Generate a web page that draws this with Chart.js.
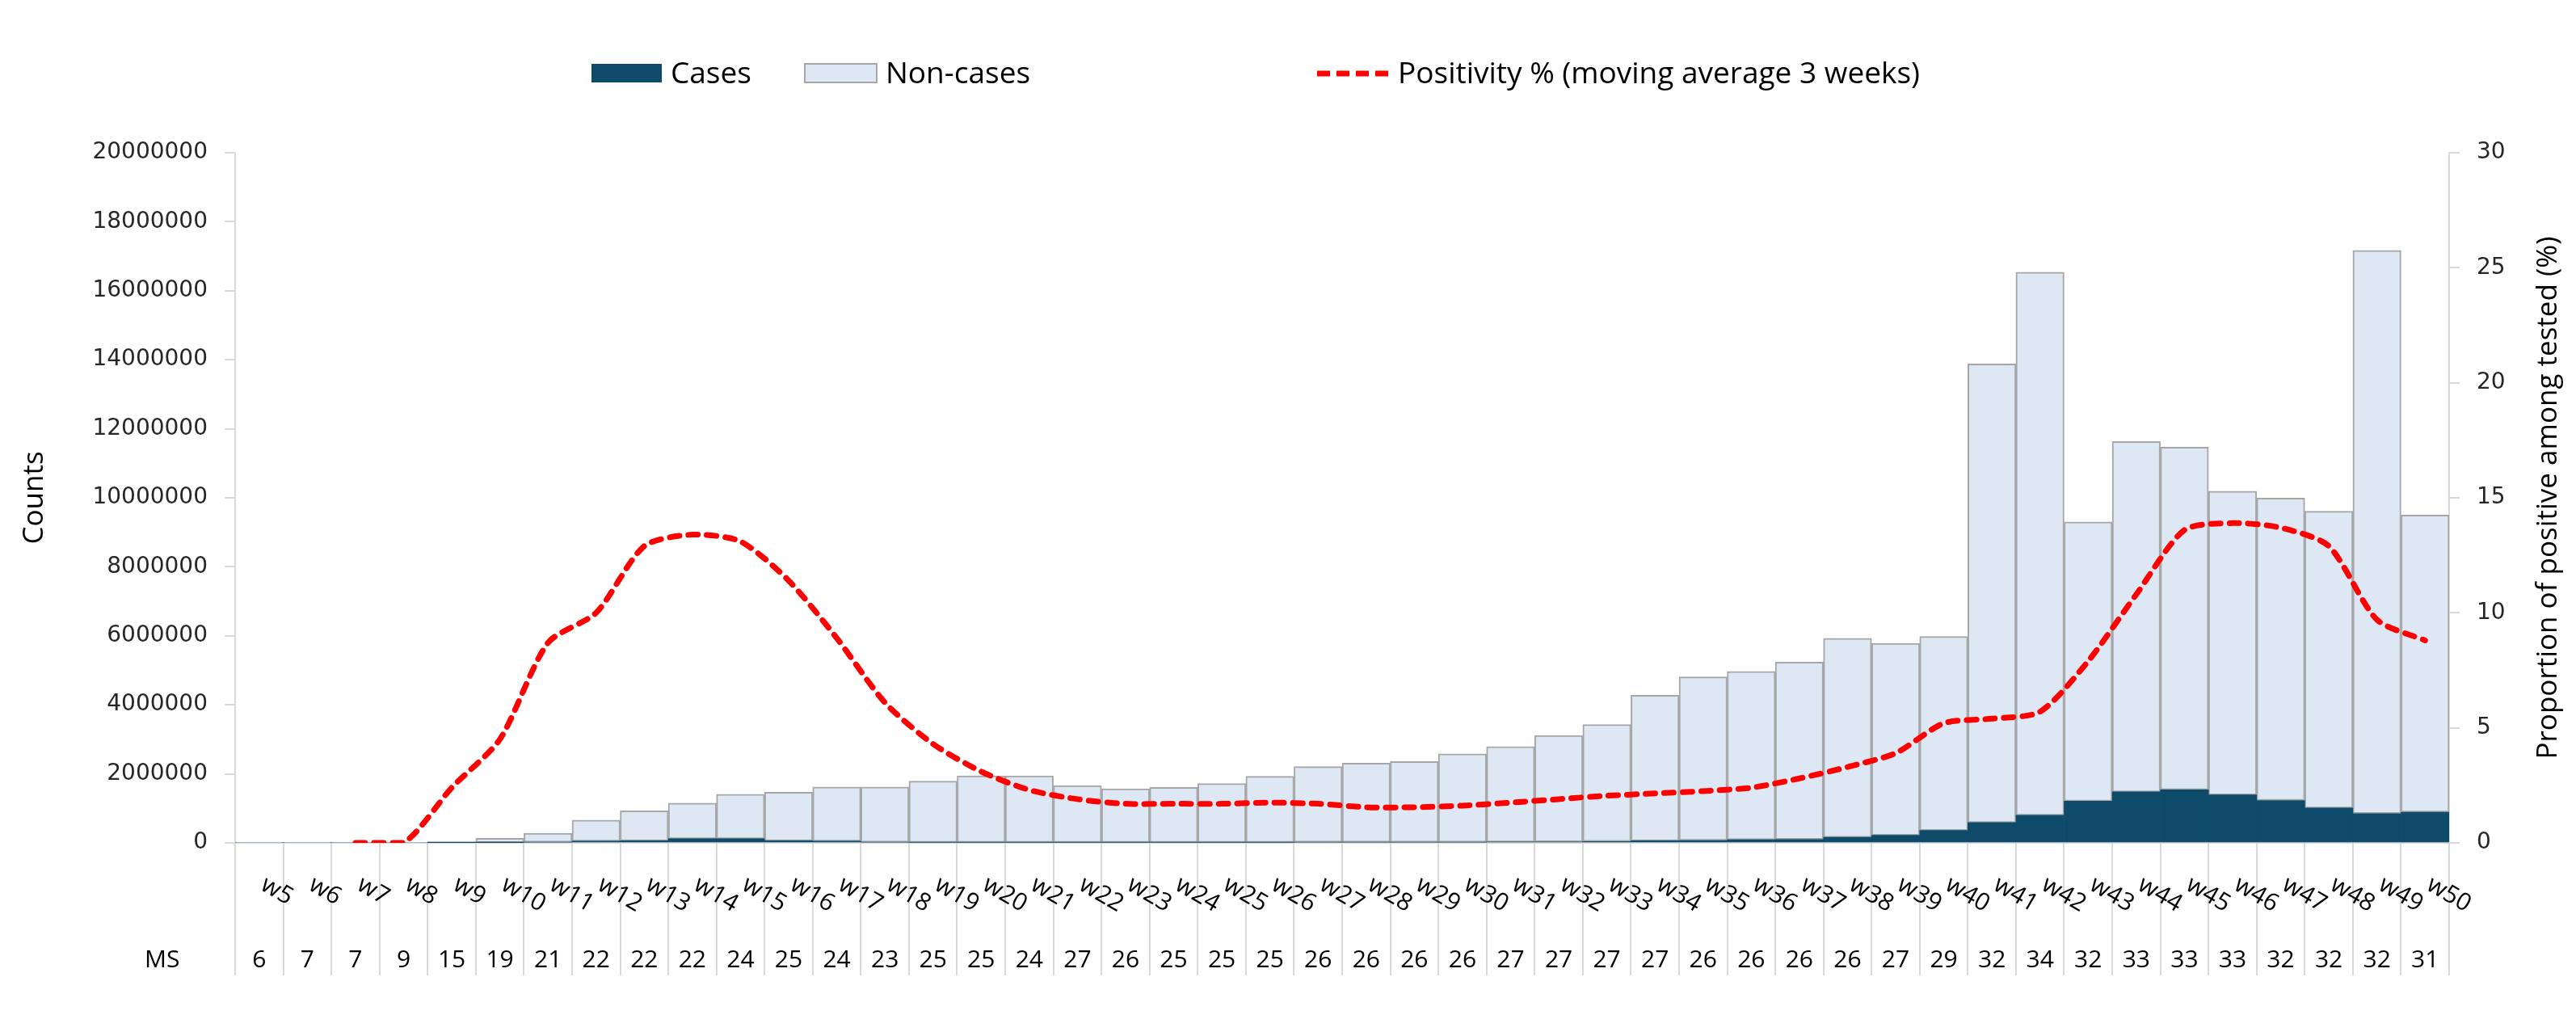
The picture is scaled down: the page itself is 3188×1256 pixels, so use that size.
<!DOCTYPE html>
<html>
<head>
<meta charset="utf-8">
<script src="https://cdn.jsdelivr.net/npm/chart.js@4.4.1/dist/chart.umd.min.js"></script>
<style>
  html, body { margin: 0; padding: 0; background: #fff; }
  #grafico { display: block; }
</style>
</head>
<body>
<canvas id="grafico" width="3188" height="1256"></canvas>
<script>
// ---- datos ----
const weeks = ['w5', 'w6', 'w7', 'w8', 'w9', 'w10', 'w11', 'w12', 'w13', 'w14', 'w15', 'w16',
    'w17', 'w18', 'w19', 'w20', 'w21', 'w22', 'w23', 'w24', 'w25', 'w26', 'w27', 'w28', 'w29',
    'w30', 'w31', 'w32', 'w33', 'w34', 'w35', 'w36', 'w37', 'w38', 'w39', 'w40', 'w41', 'w42',
    'w43', 'w44', 'w45', 'w46', 'w47', 'w48', 'w49', 'w50'];

const msValues = [6, 7, 7, 9, 15, 19, 21, 22, 22, 22, 24, 25, 24, 23, 25, 25, 24, 27, 26, 25, 25, 25,
    26, 26, 26, 26, 27, 27, 27, 27, 26, 26, 26, 26, 27, 29, 32, 34, 32, 33, 33, 33, 32, 32, 32, 31];

const cases = [0, 0, 0, 0, 1000, 5000, 20000, 50000, 60000, 120000, 120000, 60000,
    50000, 20000, 15000, 15000, 15000, 12000, 12000, 12000, 12000, 15000, 20000, 20000, 20000,
    22000, 25000, 30000, 40000, 60000, 70000, 90000, 100000, 160000, 220000, 360000, 590000, 800000,
    1210000, 1480000, 1540000, 1390000, 1230000, 1010000, 850000, 890000];

const nonCases = [5000, 8000, 10000, 15000, 29000, 125000, 260000, 610000, 870000, 1030000, 1290000, 1410000,
    1570000, 1600000, 1775000, 1925000, 1925000, 1648000, 1558000, 1598000, 1708000, 1915000, 2190000, 2290000, 2340000,
    2558000, 2765000, 3080000, 3390000, 4220000, 4740000, 4880000, 5140000, 5770000, 5560000, 5620000, 13290000, 15740000,
    8090000, 10150000, 9930000, 8800000, 8760000, 8600000, 16320000, 8610000];

const positivity = [null, null, 0, 0, 2.4, 4.5, 8.7, 10.0, 12.9, 13.4, 13.1, 11.4,
    8.9, 6.1, 4.3, 3.1, 2.3, 1.9, 1.7, 1.7, 1.7, 1.75, 1.7, 1.55, 1.55,
    1.62, 1.75, 1.9, 2.05, 2.15, 2.25, 2.4, 2.8, 3.3, 3.9, 5.2, 5.4, 5.7,
    7.9, 10.8, 13.6, 13.9, 13.7, 12.9, 9.7, 8.8];

const countsMax = 20000000;
const countsStep = 2000000;
const pctMax = 30;
const pctStep = 5;

// ---- estilos ----
const NAVY = '#0e4b6b';
const LIGHT = '#dde8f4';
const GREY = '#a6a6a6';
const AXIS = '#d9d9d9';
const RED = '#ff0000';
const FONT_TXT = '"Open Sans", "DejaVu Sans", sans-serif';
const FONT_NUM = '"DejaVu Sans", sans-serif';

// Etiquetas de semana giradas, fila MS y título del eje derecho
const etiquetasPlugin = {
    id: 'etiquetas',
    afterDraw(chart) {
        const { ctx, chartArea, scales: { x } } = chart;
        ctx.save();
        ctx.fillStyle = '#000';
        ctx.font = '30px ' + FONT_TXT;
        ctx.textAlign = 'left';
        ctx.textBaseline = 'alphabetic';
        weeks.forEach((w, i) => {
            const px = x.getPixelForValue(i);
            ctx.save();
            ctx.translate(px, chartArea.bottom + 57);
            ctx.rotate(30 * Math.PI / 180);
            ctx.fillText(w, 0, 0);
            ctx.restore();
        });
        ctx.font = '30px ' + FONT_TXT;
        ctx.textAlign = 'center';
        msValues.forEach((m, i) => {
            ctx.fillText(String(m), x.getPixelForValue(i), chartArea.bottom + 154);
        });
        ctx.textAlign = 'left';
        ctx.fillText('MS', 179, chartArea.bottom + 154);

        // título eje derecho (se lee de abajo hacia arriba)
        ctx.font = '35px ' + FONT_TXT;
        ctx.textAlign = 'center';
        ctx.textBaseline = 'middle';
        ctx.save();
        ctx.translate(3154, (chartArea.top + chartArea.bottom) / 2);
        ctx.rotate(-Math.PI / 2);
        ctx.fillText('Proportion of positive among tested (%)', 0, 0);
        ctx.restore();
        ctx.restore();
    }
};

// Leyenda dibujada a mano para respetar los huecos del original
const leyendaPlugin = {
    id: 'leyenda',
    afterDraw(chart) {
        const { ctx } = chart;
        const ds = chart.data.datasets;
        ctx.save();
        ctx.font = '37px ' + FONT_TXT;
        ctx.fillStyle = '#000';
        ctx.textBaseline = 'alphabetic';
        ctx.textAlign = 'left';

        ctx.fillStyle = ds[0].backgroundColor;
        ctx.fillRect(732, 79, 87, 23);
        ctx.fillStyle = '#000';
        ctx.fillText(ds[0].label, 830, 103);

        ctx.fillStyle = ds[1].backgroundColor;
        ctx.fillRect(996, 79, 89, 23);
        ctx.strokeStyle = ds[1].borderColor;
        ctx.lineWidth = 2;
        ctx.strokeRect(996, 79, 89, 23);
        ctx.fillStyle = '#000';
        ctx.fillText(ds[1].label, 1096, 103);

        ctx.strokeStyle = ds[2].borderColor;
        ctx.lineWidth = 7;
        ctx.setLineDash([16, 8]);
        ctx.beginPath();
        ctx.moveTo(1630, 91);
        ctx.lineTo(1719, 91);
        ctx.stroke();
        ctx.setLineDash([]);
        ctx.fillText(ds[2].label, 1730, 103);
        ctx.restore();
    }
};

const ctx = document.getElementById('grafico');
new Chart(ctx, {
    type: 'bar',
    data: {
        labels: weeks,
        datasets: [
            { label: 'Cases', data: cases, backgroundColor: NAVY, borderWidth: 0, stack: 's', yAxisID: 'y', order: 2 },
            { label: 'Non-cases', data: nonCases, backgroundColor: LIGHT, borderColor: GREY, borderWidth: 2,
              borderSkipped: false, stack: 's', yAxisID: 'y', order: 2 },
            { type: 'line', label: 'Positivity % (moving average 3 weeks)', data: positivity, yAxisID: 'y1', order: 1,
              borderColor: RED, backgroundColor: RED, borderWidth: 7, borderDash: [12, 11], borderCapStyle: 'round',
              pointRadius: 0, tension: 0.25, fill: false }
        ]
    },
    options: {
        responsive: false,
        animation: false,
        layout: { padding: { top: 189, left: 0, right: 0, bottom: 0 } },
        datasets: { bar: { barPercentage: 1, categoryPercentage: 1 } },
        plugins: { legend: { display: false }, tooltip: { enabled: false } },
        scales: {
            x: {
                stacked: true, offset: true,
                ticks: { display: false },
                grid: { drawOnChartArea: false, drawTicks: true, tickLength: 164, color: AXIS, lineWidth: 2, offset: true },
                border: { color: AXIS, width: 2 },
                afterFit: s => { s.height = 213; }
            },
            y: {
                position: 'left', stacked: true, min: 0, max: countsMax,
                ticks: { stepSize: countsStep, padding: 21, color: '#262626', font: { family: FONT_NUM, size: 28 },
                         callback: v => String(Math.round(v)) },
                grid: { drawOnChartArea: false, drawTicks: true, tickLength: 13, color: AXIS, lineWidth: 2 },
                border: { color: AXIS, width: 2 },
                title: { display: true, text: 'Counts', color: '#000', font: { family: FONT_TXT, size: 35 },
                         padding: { top: 22, bottom: 0 } },
                afterFit: s => { s.width = 291; }
            },
            y1: {
                position: 'right', min: 0, max: pctMax,
                ticks: { stepSize: pctStep, padding: 21, color: '#262626', font: { family: FONT_NUM, size: 28 } },
                grid: { drawOnChartArea: false, drawTicks: true, tickLength: 13, color: AXIS, lineWidth: 2 },
                border: { color: AXIS, width: 2 },
                afterFit: s => { s.width = 157; }
            }
        }
    },
    plugins: [etiquetasPlugin, leyendaPlugin]
});
</script>
</body>
</html>
